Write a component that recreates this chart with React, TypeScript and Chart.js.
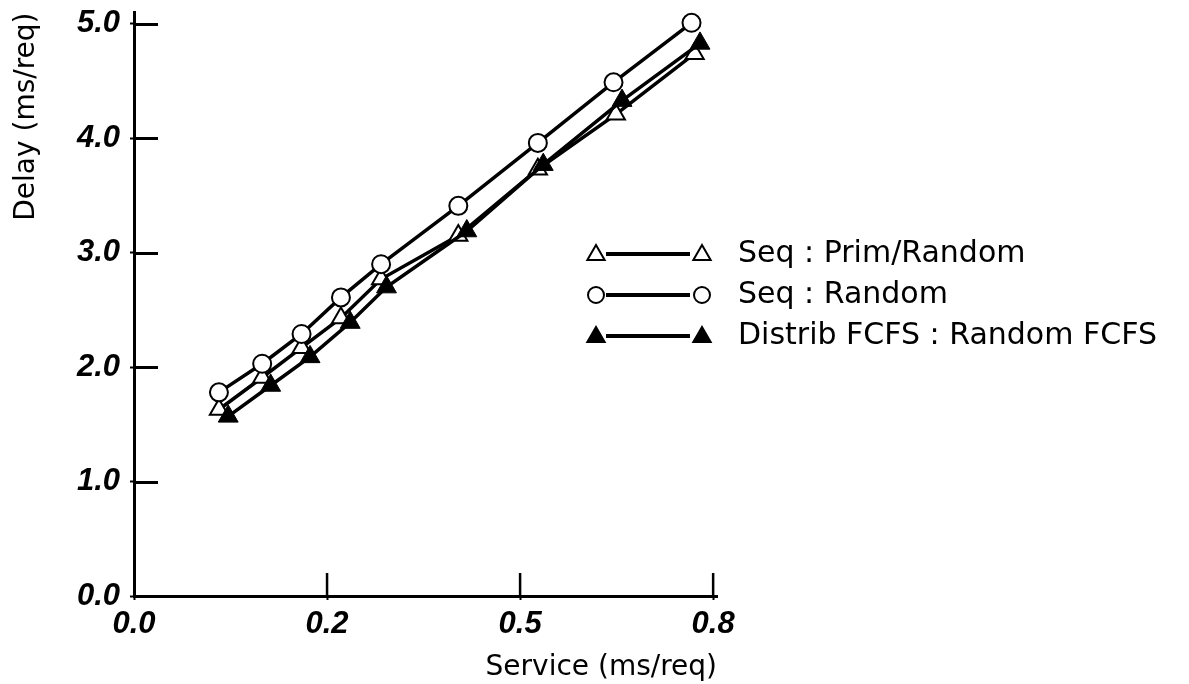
import React, { useEffect, useRef } from "react";
import { Chart, registerables } from "chart.js";

Chart.register(...registerables);

// ---- data ----
const servicePrim = [0.110, 0.166, 0.217, 0.268, 0.320, 0.420, 0.523, 0.624, 0.726];
const delayPrim = [1.63, 1.91, 2.17, 2.43, 2.77, 3.15, 3.73, 4.21, 4.74];

const serviceRandom = [0.110, 0.166, 0.217, 0.268, 0.320, 0.420, 0.523, 0.621, 0.722];
const delayRandom = [1.78, 2.03, 2.29, 2.61, 2.90, 3.41, 3.96, 4.49, 5.01];

const serviceFcfs = [0.122, 0.177, 0.228, 0.280, 0.327, 0.431, 0.530, 0.632, 0.733];
const delayFcfs = [1.57, 1.84, 2.09, 2.39, 2.70, 3.19, 3.77, 4.33, 4.83];

const seriesLabels = ["Seq : Prim/Random", "Seq : Random", "Distrib FCFS : Random FCFS"];

const xTickValues = [0, 0.25, 0.5, 0.75];
const xTickLabels = ["0.0", "0.2", "0.5", "0.8"];
const yTickValues = [0, 1, 2, 3, 4, 5];
const yTickLabels = ["0.0", "1.0", "2.0", "3.0", "4.0", "5.0"];

const xTitle = "Service (ms/req)";
const yTitle = "Delay (ms/req)";

const tickFont = { family: '"Liberation Sans", Arial, sans-serif', size: 31, weight: "bold" as const, style: "italic" as const, lineHeight: 1.2 };
const titleFont = { family: '"DejaVu Sans", sans-serif', size: 28, lineHeight: 1 };

function drawMarker(ctx: CanvasRenderingContext2D, style: string, filled: boolean, x: number, y: number, r: number) {
  ctx.save();
  ctx.beginPath();
  if (style === "circle") {
    ctx.arc(x, y, r, 0, Math.PI * 2);
  } else {
    for (let k = 0; k < 3; k++) {
      const a = (k * 2 * Math.PI) / 3;
      const px = x + Math.sin(a) * r;
      const py = y - Math.cos(a) * r;
      if (k === 0) ctx.moveTo(px, py);
      else ctx.lineTo(px, py);
    }
    ctx.closePath();
  }
  ctx.fillStyle = filled ? "#000" : "#fff";
  ctx.fill();
  ctx.lineWidth = 2;
  ctx.strokeStyle = "#000";
  ctx.stroke();
  ctx.restore();
}

const innerTicksPlugin = {
  id: "innerTicks",
  beforeDatasetsDraw(chart: any) {
    const { ctx, chartArea, scales } = chart;
    const x = scales.x;
    const y = scales.y;
    ctx.save();
    ctx.strokeStyle = "#000";
    ctx.lineWidth = 3;
    y.ticks.forEach((t: any) => {
      if (t.value === 0) return;
      const py = Math.round(y.getPixelForValue(t.value)) + 0.5;
      ctx.beginPath();
      ctx.moveTo(chartArea.left, py);
      ctx.lineTo(chartArea.left + 24, py);
      ctx.stroke();
    });
    ctx.lineWidth = 2.5;
    x.ticks.forEach((t: any) => {
      if (t.value === 0) return;
      const px = x.getPixelForValue(t.value);
      ctx.beginPath();
      ctx.moveTo(px, chartArea.bottom);
      ctx.lineTo(px, chartArea.bottom - 23);
      ctx.stroke();
    });
    ctx.restore();
  },
};

const legendPlugin = {
  id: "pairLegend",
  afterDraw(chart: any) {
    const { ctx } = chart;
    ctx.save();
    chart.data.datasets.forEach((ds: any, i: number) => {
      const y = 254 + 41 * i;
      const filled = ds.pointBackgroundColor === "#000";
      const style = ds.pointStyle;
      const r = style === "circle" ? 8 : 10;
      ctx.strokeStyle = "#000";
      ctx.lineWidth = 4;
      ctx.beginPath();
      ctx.moveTo(606, y);
      ctx.lineTo(690, y);
      ctx.stroke();
      drawMarker(ctx, style, filled, 596, y + (style === "circle" ? 0 : 1), r);
      drawMarker(ctx, style, filled, 702, y + (style === "circle" ? 0 : 1), r);
      ctx.fillStyle = "#000";
      ctx.font = '30px "DejaVu Sans", sans-serif';
      ctx.textAlign = "left";
      ctx.textBaseline = "middle";
      ctx.fillText(ds.label, 738, y);
    });
    ctx.restore();
  },
};

function pts(xs: number[], ys: number[]) {
  return xs.map((x, i) => ({ x, y: ys[i] }));
}

export default function App() {
  const ref = useRef<HTMLCanvasElement>(null);

  useEffect(() => {
    const canvas = ref.current;
    if (!canvas) return;
    const chart = new Chart(canvas, {
      type: "line",
      data: {
        datasets: [
          {
            label: seriesLabels[0],
            data: pts(servicePrim, delayPrim),
            borderColor: "#000",
            borderWidth: 3.5,
            pointStyle: "triangle",
            pointRadius: 10.5,
            pointBackgroundColor: "#fff",
            pointBorderColor: "#000",
            pointBorderWidth: 2,
            order: 3,
            clip: false,
          },
          {
            label: seriesLabels[1],
            data: pts(serviceRandom, delayRandom),
            borderColor: "#000",
            borderWidth: 3.5,
            pointStyle: "circle",
            pointRadius: 9,
            pointBackgroundColor: "#fff",
            pointBorderColor: "#000",
            pointBorderWidth: 2,
            order: 1,
            clip: false,
          },
          {
            label: seriesLabels[2],
            data: pts(serviceFcfs, delayFcfs),
            borderColor: "#000",
            borderWidth: 3.5,
            pointStyle: "triangle",
            pointRadius: 11.5,
            pointBackgroundColor: "#000",
            pointBorderColor: "#000",
            pointBorderWidth: 1,
            order: 2,
            clip: false,
          },
        ] as any,
      },
      options: {
        responsive: false,
        animation: false,
        devicePixelRatio: 1,
        layout: { padding: { top: 11, right: 472, bottom: 0, left: 0 } },
        plugins: {
          legend: { display: false },
          tooltip: { enabled: false },
        },
        scales: {
          x: {
            type: "linear",
            min: 0,
            max: 0.755,
            afterBuildTicks: (s: any) => {
              s.ticks = xTickValues.map((v) => ({ value: v }));
            },
            afterFit: (s: any) => {
              s.height = 88;
              s.paddingLeft = 0;
              s.paddingRight = 0;
            },
            ticks: {
              autoSkip: false,
              maxRotation: 0,
              padding: 6,
              color: "#000",
              font: tickFont,
              callback: (v: any) => {
                const i = xTickValues.findIndex((t) => Math.abs(t - Number(v)) < 1e-9);
                return i >= 0 ? xTickLabels[i] : "";
              },
            },
            grid: { display: true, drawOnChartArea: false, drawTicks: true, tickLength: 4, tickWidth: 2, tickColor: "#000" },
            border: { display: true, color: "#000", width: 3 },
            title: { display: true, text: xTitle, align: "end", color: "#000", font: titleFont, padding: { top: 0, bottom: 2 } },
          },
          y: {
            type: "linear",
            min: 0,
            max: 5.1,
            afterBuildTicks: (s: any) => {
              s.ticks = yTickValues.map((v) => ({ value: v }));
            },
            afterFit: (s: any) => {
              s.width = 134;
              s.paddingTop = 0;
              s.paddingBottom = 0;
            },
            ticks: {
              autoSkip: false,
              padding: 10,
              color: "#000",
              font: tickFont,
              callback: (v: any) => {
                const i = yTickValues.findIndex((t) => Math.abs(t - Number(v)) < 1e-9);
                return i >= 0 ? yTickLabels[i] : "";
              },
            },
            grid: { display: true, drawOnChartArea: false, drawTicks: true, tickLength: 4, tickWidth: 2, tickColor: "#000" },
            border: { display: true, color: "#000", width: 3 },
            title: { display: true, text: yTitle, align: "end", color: "#000", font: titleFont, padding: { top: 13, bottom: 0 } },
          },
        },
      } as any,
      plugins: [innerTicksPlugin, legendPlugin],
    });
    return () => chart.destroy();
  }, []);

  return (
    <div style={{ position: "fixed", left: 0, top: 0, width: 1189, height: 684, background: "#fff" }}>
      <canvas ref={ref} width={1189} height={684} style={{ display: "block", width: 1189, height: 684 }} />
    </div>
  );
}
